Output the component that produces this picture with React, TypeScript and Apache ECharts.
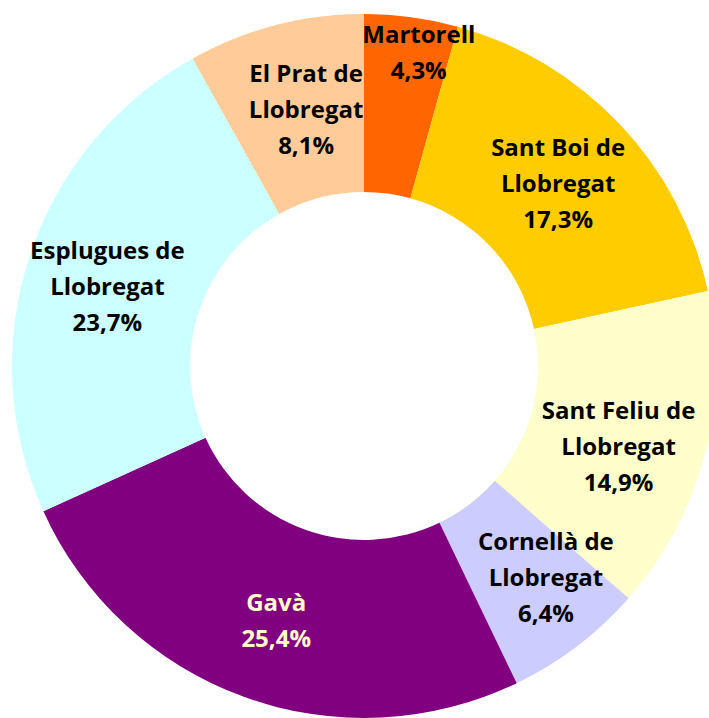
import React, { useEffect, useRef } from "react";
import * as echarts from "echarts";

const categories: string[] = [
  "Martorell",
  "Sant Boi de\nLlobregat",
  "Sant Feliu de\nLlobregat",
  "Cornellà de\nLlobregat",
  "Gavà",
  "Esplugues de\nLlobregat",
  "El Prat de\nLlobregat",
];
const values: number[] = [4.3, 17.3, 14.9, 6.4, 25.4, 23.7, 8.1];
const colors: string[] = ["#FF6600", "#FFCC00", "#FFFFCC", "#CCCCFF", "#800080", "#CCFFFF", "#FFCC99"];
const labelColors: string[] = ["#000", "#000", "#000", "#000", "#FFFFCC", "#000", "#000"];
const labelOffsets: number[][] = [
  [19, -51],
  [1, -1],
  [-3, 13],
  [21, -1],
  [3, 3],
  [-4, 3],
  [9, 0],
];

export default function App() {
  const ref = useRef<HTMLDivElement>(null);
  useEffect(() => {
    document.body.style.margin = "0";
    if (!ref.current) return;
    const chart = echarts.init(ref.current, undefined, { renderer: "svg" });
    chart.setOption({
      animation: false,
      backgroundColor: "#ffffff",
      series: [
        {
          type: "pie",
          center: [364, 366],
          radius: [174, 352],
          startAngle: 90,
          clockwise: true,
          avoidLabelOverlap: false,
          silent: true,
          labelLayout: { hideOverlap: false },
          data: categories.map((name, i) => ({
            name,
            value: values[i],
            itemStyle: { color: colors[i] },
            label: { color: labelColors[i], offset: labelOffsets[i] },
          })),
          label: {
            show: true,
            position: "inside",
            formatter: (p: any) => `${p.name}\n${p.value.toFixed(1).replace(".", ",")}%`,
            fontFamily: "'Open Sans', Lato, sans-serif",
            fontWeight: "bold",
            fontSize: 24,
            lineHeight: 36,
            align: "center",
          },
          labelLine: { show: false },
        },
      ],
    });
    return () => chart.dispose();
  }, []);
  return <div ref={ref} style={{ width: 709, height: 718 }} />;
}
